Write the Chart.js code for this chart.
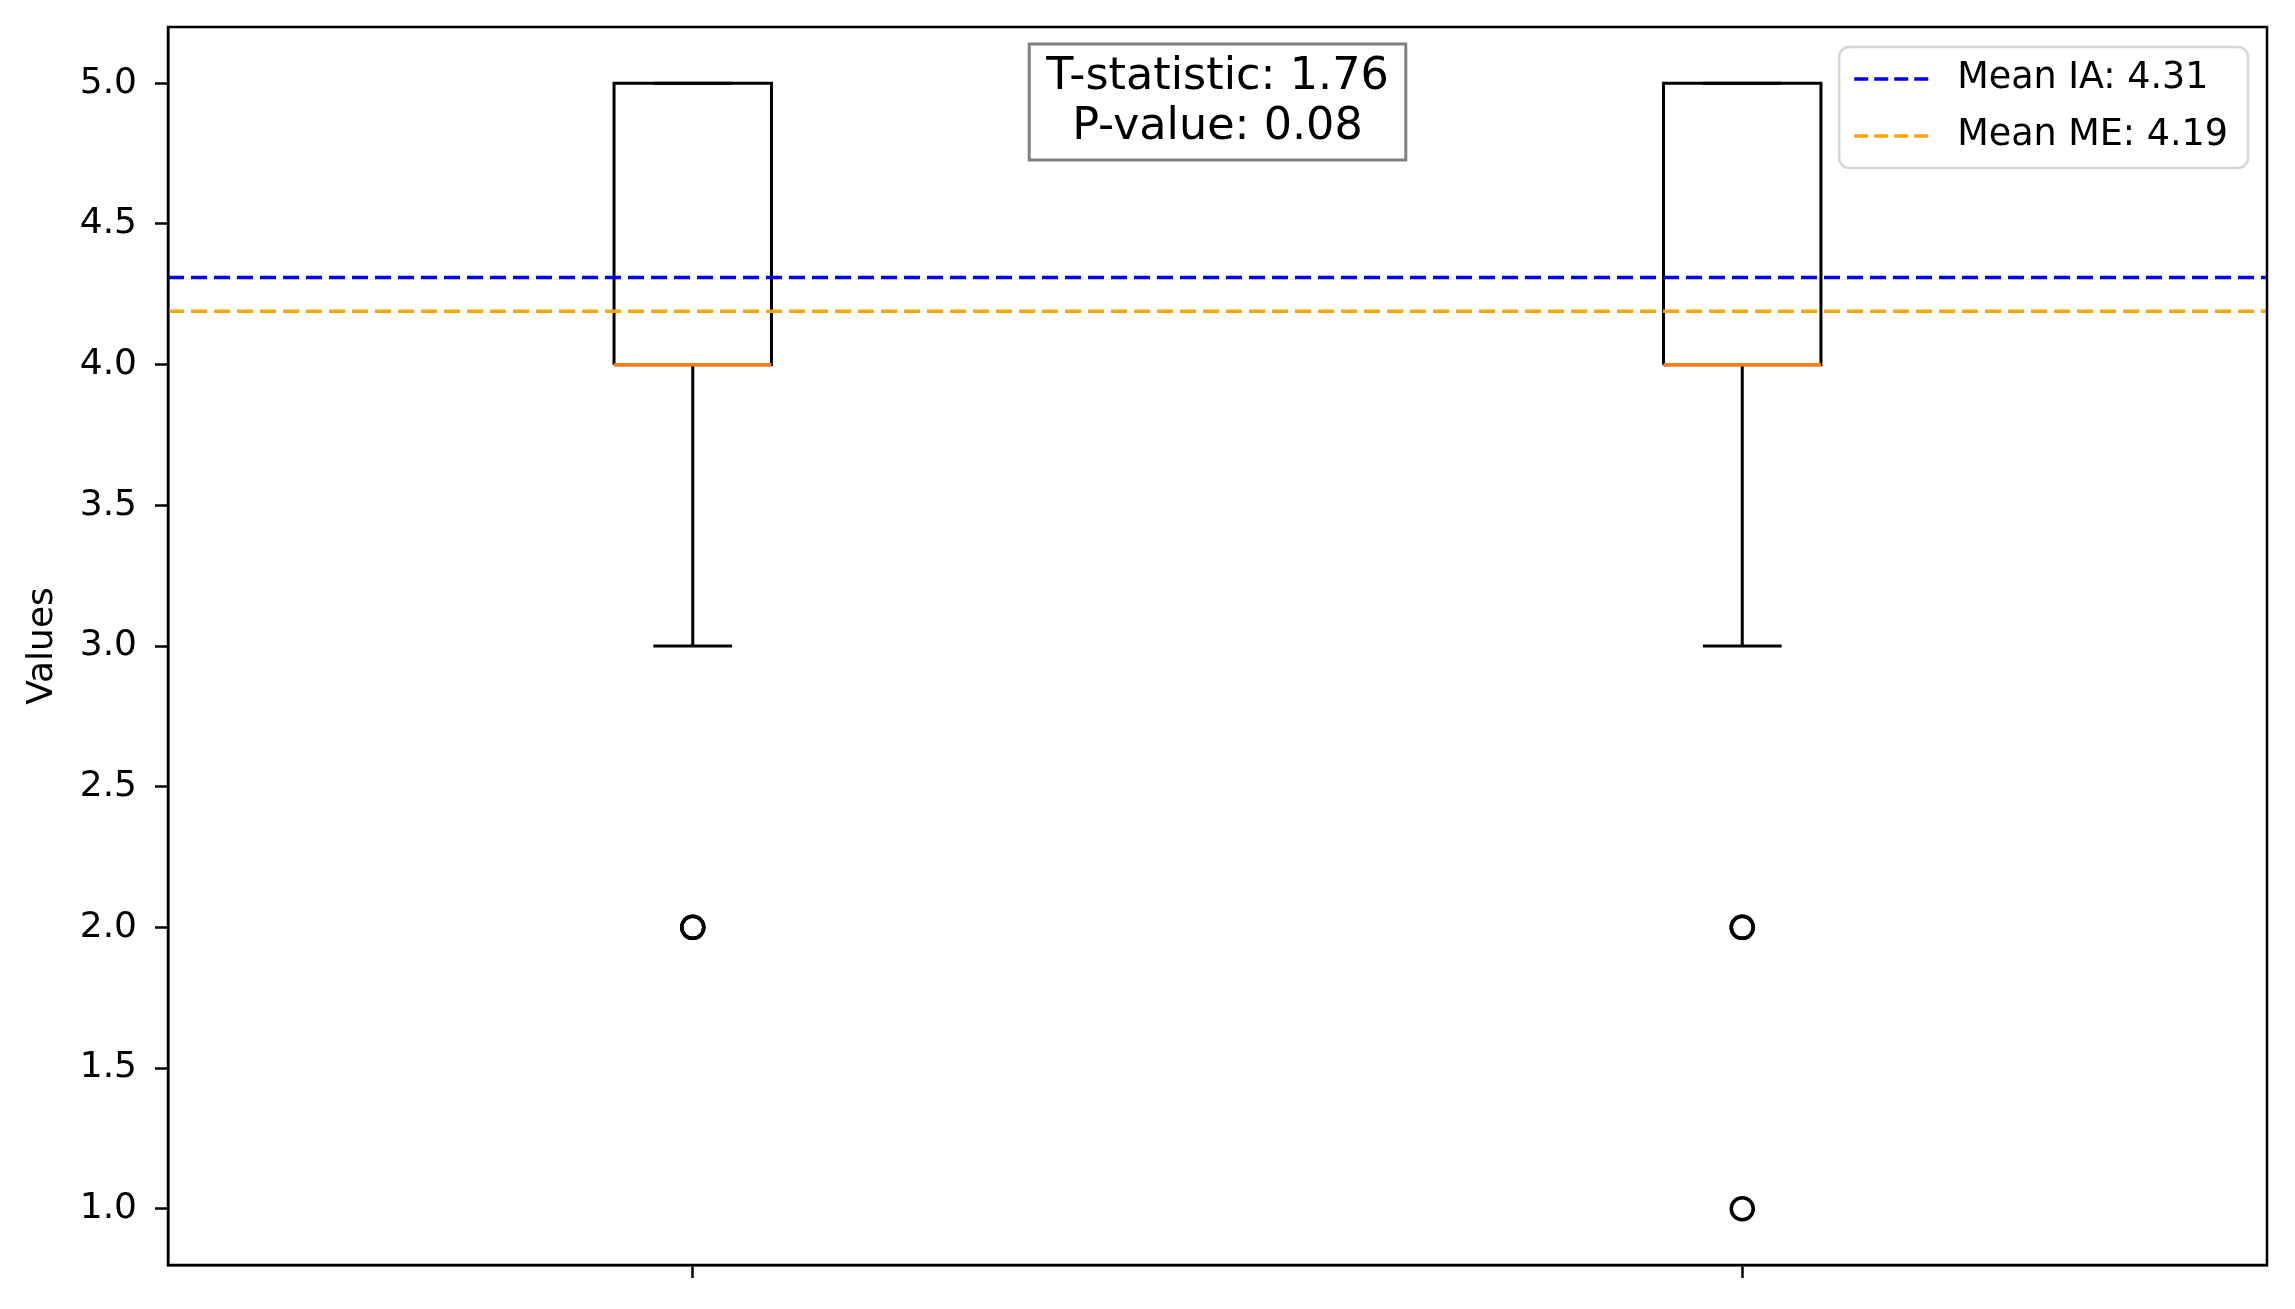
<!DOCTYPE html>
<html>
<head>
<meta charset="utf-8">
<script src="https://cdn.jsdelivr.net/npm/chart.js@4/dist/chart.umd.min.js"></script>
<style>
  body { margin: 0; background: #fff; }
  #wrap { width: 2295px; height: 1309px; }
</style>
</head>
<body>
<div id="wrap"><canvas id="myChart" width="2295" height="1309"></canvas></div>
<script>
// box plot data, one entry per group
const groups = ['IA', 'ME']
const positions = [1, 2]
const q1 = [4, 4]
const medians = [4, 4]
const q3 = [5, 5]
const whiskerLow = [3, 3]
const whiskerHigh = [5, 5]
const outliers = [[2, 2], [2, 2, 1]]

// mean lines
const meanLabels = ['Mean IA: 4.31', 'Mean ME: 4.19']
const means = [4.31, 4.19]
const meanColors = ['#0000ff', '#ffa500']

// stats text
const statLines = ['T-statistic: 1.76', 'P-value: 0.08']

// axes
const xRange = [0.5, 2.5]
const yRange = [0.8, 5.2]
const xTickLabels = ['', '']
const yTickValues = [1.0, 1.5, 2.0, 2.5, 3.0, 3.5, 4.0, 4.5, 5.0]
const yTickLabels = ['1.0', '1.5', '2.0', '2.5', '3.0', '3.5', '4.0', '4.5', '5.0']

const boxHalf = 0.075
const capHalf = 0.0375
const FONT = '"DejaVu Sans", sans-serif'

const datasets = []

// mean lines on top
means.forEach((m, i) => {
  datasets.push({
    label: meanLabels[i],
    data: [{ x: xRange[0], y: m }, { x: xRange[1], y: m }],
    showLine: true, pointRadius: 0,
    borderColor: meanColors[i], borderWidth: 3.5, borderDash: [16, 7],
    order: 0
  })
})

groups.forEach((g, i) => {
  const p = positions[i]
  // medians
  datasets.push({
    label: g + ' median',
    data: [{ x: p - boxHalf, y: medians[i] }, { x: p + boxHalf, y: medians[i] }],
    showLine: true, pointRadius: 0, borderColor: '#ff7f0e', borderWidth: 3.5,
    order: 1
  })
  // box
  datasets.push({
    label: g + ' box',
    data: [
      { x: p - boxHalf, y: q1[i] }, { x: p + boxHalf, y: q1[i] },
      { x: p + boxHalf, y: q3[i] }, { x: p - boxHalf, y: q3[i] },
      { x: p - boxHalf, y: q1[i] }
    ],
    showLine: true, pointRadius: 0, borderColor: '#000', borderWidth: 3,
    order: 2
  })
  // whiskers
  datasets.push({
    label: g + ' low whisker',
    data: [{ x: p, y: q1[i] }, { x: p, y: whiskerLow[i] }],
    showLine: true, pointRadius: 0, borderColor: '#000', borderWidth: 3, order: 2
  })
  datasets.push({
    label: g + ' high whisker',
    data: [{ x: p, y: q3[i] }, { x: p, y: whiskerHigh[i] }],
    showLine: true, pointRadius: 0, borderColor: '#000', borderWidth: 3, order: 2
  })
  // caps
  datasets.push({
    label: g + ' low cap',
    data: [{ x: p - capHalf, y: whiskerLow[i] }, { x: p + capHalf, y: whiskerLow[i] }],
    showLine: true, pointRadius: 0, borderColor: '#000', borderWidth: 3, order: 2
  })
  datasets.push({
    label: g + ' high cap',
    data: [{ x: p - capHalf, y: whiskerHigh[i] }, { x: p + capHalf, y: whiskerHigh[i] }],
    showLine: true, pointRadius: 0, borderColor: '#000', borderWidth: 3, order: 2
  })
  // fliers
  datasets.push({
    label: g + ' outliers',
    data: outliers[i].map(v => ({ x: p, y: v })),
    showLine: false, pointStyle: 'circle', pointRadius: 11,
    pointBorderColor: '#000', pointBackgroundColor: 'rgba(0,0,0,0)', pointBorderWidth: 3.5,
    order: 2
  })
})

// frame, stats box and legend
const extras = {
  id: 'extras',
  afterDraw(chart) {
    const ctx = chart.ctx
    const a = chart.chartArea
    ctx.save()
    ctx.strokeStyle = '#000'
    ctx.lineWidth = 2.5
    ctx.strokeRect(a.left, a.top, a.right - a.left, a.bottom - a.top)

    // stats text box
    ctx.font = '44.5px ' + FONT
    const tw = Math.max(...statLines.map(s => ctx.measureText(s).width))
    const bw = tw + 34
    const bh = 116
    const cx = (a.left + a.right) / 2
    const by = a.top + 17
    ctx.fillStyle = '#fff'
    ctx.fillRect(cx - bw / 2, by, bw, bh)
    ctx.strokeStyle = '#808080'
    ctx.lineWidth = 3
    ctx.strokeRect(cx - bw / 2, by, bw, bh)
    ctx.fillStyle = '#000'
    ctx.textAlign = 'center'
    ctx.textBaseline = 'middle'
    statLines.forEach((s, i) => ctx.fillText(s, cx, by + 33 + i * 50))

    // legend
    ctx.font = '36.5px ' + FONT
    const lw = Math.max(...meanLabels.map(s => ctx.measureText(s).width))
    const w = 15 + 75 + 28 + lw + 20
    const h = 121
    const lx = a.right - 19 - w
    const ly = a.top + 20
    ctx.beginPath()
    ctx.roundRect(lx, ly, w, h, 10)
    ctx.fillStyle = 'rgba(255,255,255,0.8)'
    ctx.fill()
    ctx.strokeStyle = 'rgba(204,204,204,0.8)'
    ctx.lineWidth = 2.5
    ctx.stroke()
    meanLabels.forEach((s, i) => {
      const yy = ly + 32 + i * 57
      ctx.beginPath()
      ctx.setLineDash([14, 6])
      ctx.strokeStyle = meanColors[i]
      ctx.lineWidth = 3.5
      ctx.moveTo(lx + 15, yy)
      ctx.lineTo(lx + 90, yy)
      ctx.stroke()
      ctx.setLineDash([])
      ctx.fillStyle = '#000'
      ctx.textAlign = 'left'
      ctx.textBaseline = 'middle'
      ctx.fillText(s, lx + 118, yy)
    })
    ctx.restore()
  }
}

const canvas = document.getElementById('myChart')
const chart = new Chart(canvas, {
  type: 'scatter',
  data: { datasets: datasets },
  options: {
    responsive: false,
    devicePixelRatio: 1,
    animation: false,
    layout: { padding: { top: 27, right: 28, left: 21, bottom: 0 } },
    plugins: { legend: { display: false }, tooltip: { enabled: false } },
    scales: {
      x: {
        type: 'linear', min: xRange[0], max: xRange[1],
        afterBuildTicks: s => { s.ticks = positions.map(v => ({ value: v })) },
        afterFit: s => { s.height = 44; s.paddingLeft = 0; s.paddingRight = 0 },
        ticks: { callback: (v, i) => xTickLabels[i] ?? '', font: { family: FONT, size: 36 }, color: '#000' },
        grid: { drawOnChartArea: false, drawTicks: true, tickLength: 13, tickWidth: 2.5, tickColor: '#000' },
        border: { display: true, color: '#000', width: 2.5 }
      },
      y: {
        type: 'linear', min: yRange[0], max: yRange[1],
        afterBuildTicks: s => { s.ticks = yTickValues.map(v => ({ value: v })) },
        afterFit: s => { s.width = 147; s.paddingTop = 0; s.paddingBottom = 0 },
        ticks: { callback: (v, i) => yTickLabels[i], font: { family: FONT, size: 36 }, color: '#000', padding: 18 },
        grid: { drawOnChartArea: false, drawTicks: true, tickLength: 13, tickWidth: 2.5, tickColor: '#000' },
        border: { display: true, color: '#000', width: 2.5 },
        title: { display: true, text: 'Values', font: { family: FONT, size: 36 }, color: '#000', padding: 0 }
      }
    }
  },
  plugins: [extras]
})
</script>
</body>
</html>
